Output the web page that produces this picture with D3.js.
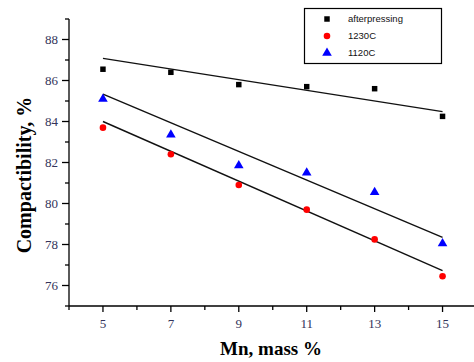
<!DOCTYPE html>
<html>
<head>
<meta charset="utf-8">
<script src="https://cdn.jsdelivr.net/npm/d3@7"></script>
<style>
  body { margin: 0; background: #fff; }
  svg { display: block; }
</style>
</head>
<body>
<div id="chart"></div>
<script>
// data
const mn = [5, 7, 9, 11, 13, 15];
const afterPressing = [86.55, 86.4, 85.8, 85.7, 85.6, 84.25];
const c1230 = [83.7, 82.4, 80.9, 79.7, 78.25, 76.45];
const c1120 = [85.1, 83.35, 81.85, 81.5, 80.55, 78.05];
// fitted lines, value at x=5 and x=15
const fitAfter = [87.08, 84.48];
const fit1230 = [84.0, 76.73];
const fit1120 = [85.34, 78.35];
const xTicks = [5, 7, 9, 11, 13, 15];
const yTicks = [76, 78, 80, 82, 84, 86, 88];

const width = 474, height = 362;
const svg = d3.select('#chart').append('svg').attr('width', width).attr('height', height);

const x = d3.scaleLinear().domain([4, 16]).range([69, 476.5]);
const y = d3.scaleLinear().domain([75, 89]).range([306, 19]);

const tickColor = '#33335a';

// y axis
const gy = svg.append('g').attr('transform', 'translate(69,0)');
gy.append('line').attr('y1', y(89)).attr('y2', y(75)).attr('stroke', '#000').attr('stroke-width', 1.3);
d3.range(75, 90).forEach(v => {
  const major = v % 2 === 0;
  gy.append('line').attr('x1', major ? -7 : -4).attr('x2', 0)
    .attr('y1', y(v)).attr('y2', y(v)).attr('stroke', '#000').attr('stroke-width', 1.3);
});
gy.selectAll('text.tick').data(yTicks).enter().append('text')
  .attr('x', -11).attr('y', d => y(d)).attr('dy', '0.35em')
  .attr('text-anchor', 'end')
  .style('font-family', 'Liberation Serif, serif').style('font-size', '13px')
  .attr('fill', tickColor).text(d => d);

// x axis
const gx = svg.append('g').attr('transform', 'translate(0,306)');
gx.append('line').attr('x1', 69).attr('x2', width).attr('stroke', '#000').attr('stroke-width', 1.3);
d3.range(4, 16).forEach(v => {
  const major = v % 2 === 1;
  gx.append('line').attr('x1', x(v)).attr('x2', x(v))
    .attr('y1', 0).attr('y2', major ? 6 : 4).attr('stroke', '#000').attr('stroke-width', 1.3);
});
gx.selectAll('text.tick').data(xTicks).enter().append('text')
  .attr('x', d => x(d)).attr('y', 17).attr('dy', '0.35em')
  .attr('text-anchor', 'middle')
  .style('font-family', 'Liberation Serif, serif').style('font-size', '13px')
  .attr('fill', tickColor).text(d => d);

// axis titles
svg.append('text')
  .attr('x', 271).attr('y', 355)
  .attr('text-anchor', 'middle')
  .style('font-family', 'Liberation Serif, serif').style('font-size', '19px').style('font-weight', 'bold')
  .text('Mn, mass %');

svg.append('text')
  .attr('transform', 'translate(31,175) rotate(-90)')
  .attr('text-anchor', 'middle')
  .style('font-family', 'Liberation Serif, serif').style('font-size', '20px').style('font-weight', 'bold')
  .text('Compactibility, %');

// fit lines
[fitAfter, fit1230, fit1120].forEach(f => {
  svg.append('line')
    .attr('x1', x(5)).attr('y1', y(f[0]))
    .attr('x2', x(15)).attr('y2', y(f[1]))
    .attr('stroke', '#111').attr('stroke-width', 1.4);
});

// points
const sq = d3.symbol().type(d3.symbolSquare).size(30);
const ci = d3.symbol().type(d3.symbolCircle).size(34);
const tr = d3.symbol().type(d3.symbolTriangle).size(40);

svg.append('g').selectAll('path').data(mn).enter().append('path')
  .attr('d', sq).attr('fill', '#000')
  .attr('transform', (d, i) => `translate(${x(d)},${y(afterPressing[i])})`);
svg.append('g').selectAll('path').data(mn).enter().append('path')
  .attr('d', ci).attr('fill', '#ff0000')
  .attr('transform', (d, i) => `translate(${x(d)},${y(c1230[i])})`);
svg.append('g').selectAll('path').data(mn).enter().append('path')
  .attr('d', tr).attr('fill', '#0000ff')
  .attr('transform', (d, i) => `translate(${x(d)},${y(c1120[i])})`);

// legend
const legend = svg.append('g');
legend.append('rect')
  .attr('x', 304.5).attr('y', 8.5).attr('width', 137).attr('height', 55)
  .attr('fill', '#fff').attr('stroke', '#000').attr('stroke-width', 1.2);
const legendItems = [
  { label: 'afterpressing', sym: sq, color: '#000' },
  { label: '1230C', sym: ci, color: '#ff0000' },
  { label: '1120C', sym: tr, color: '#0000ff' }
];
legendItems.forEach((it, i) => {
  const ly = 19 + i * 17;
  legend.append('path').attr('d', it.sym).attr('fill', it.color)
    .attr('transform', `translate(327,${ly})`);
  legend.append('text')
    .attr('x', 348).attr('y', ly).attr('dy', '0.35em')
    .style('font-family', 'Liberation Sans, Arial, sans-serif').style('font-size', '9.5px')
    .attr('fill', '#111').text(it.label);
});
</script>
</body>
</html>
